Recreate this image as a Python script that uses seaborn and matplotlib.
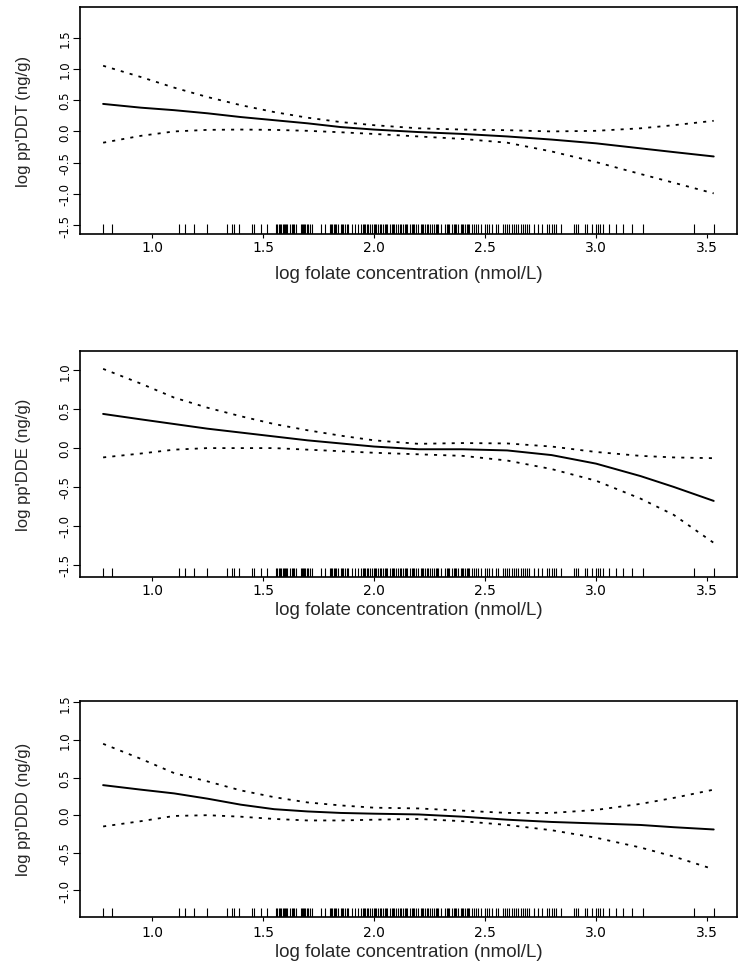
import numpy as np
import pandas as pd
import matplotlib
matplotlib.use("Agg")
import matplotlib.pyplot as plt
import seaborn as sns

x_grid = [0.78, 0.95, 1.10, 1.25, 1.40, 1.55, 1.70, 1.85, 2.00, 2.20, 2.40, 2.60, 2.80, 3.00, 3.20, 3.35, 3.53]

# pp'DDT
ddt_fit = [0.44, 0.38, 0.34, 0.29, 0.23, 0.18, 0.13, 0.07, 0.03, -0.01, -0.04, -0.08, -0.13, -0.19, -0.27, -0.33, -0.40]
ddt_upper = [1.05, 0.87, 0.70, 0.55, 0.42, 0.31, 0.22, 0.15, 0.10, 0.05, 0.03, 0.02, 0.00, 0.01, 0.05, 0.10, 0.17]
ddt_lower = [-0.18, -0.07, 0.00, 0.025, 0.03, 0.025, 0.01, -0.013, -0.04, -0.08, -0.12, -0.18, -0.32, -0.49, -0.68, -0.82, -0.99]

# pp'DDE
dde_fit = [0.44, 0.37, 0.31, 0.25, 0.20, 0.15, 0.10, 0.06, 0.02, -0.015, -0.015, -0.03, -0.09, -0.20, -0.36, -0.50, -0.68]
dde_upper = [1.02, 0.83, 0.65, 0.52, 0.41, 0.31, 0.23, 0.16, 0.10, 0.055, 0.065, 0.06, 0.02, -0.05, -0.10, -0.12, -0.13]
dde_lower = [-0.12, -0.07, -0.02, 0.00, 0.00, 0.00, -0.02, -0.04, -0.06, -0.08, -0.10, -0.16, -0.27, -0.42, -0.65, -0.86, -1.22]

# pp'DDD
ddd_fit = [0.40, 0.34, 0.29, 0.22, 0.14, 0.08, 0.05, 0.03, 0.02, 0.01, -0.02, -0.06, -0.09, -0.11, -0.13, -0.16, -0.19]
ddd_upper = [0.95, 0.75, 0.56, 0.45, 0.33, 0.24, 0.17, 0.13, 0.10, 0.09, 0.06, 0.03, 0.03, 0.07, 0.15, 0.23, 0.34]
ddd_lower = [-0.15, -0.08, -0.01, 0.00, -0.02, -0.05, -0.07, -0.07, -0.06, -0.05, -0.08, -0.13, -0.20, -0.30, -0.43, -0.55, -0.72]

# observed log folate values (rug)
rug_x = [0.78, 0.82, 1.12, 1.15, 1.19, 1.25, 1.34, 1.36, 1.37, 1.39, 1.45, 1.46, 1.49, 1.52,
         1.56, 1.565, 1.57, 1.575, 1.58, 1.59, 1.595, 1.60, 1.605, 1.61, 1.62, 1.63, 1.635, 1.64, 1.65,
         1.67, 1.675, 1.68, 1.685, 1.69, 1.70, 1.705, 1.71, 1.72,
         1.76, 1.78, 1.80, 1.805, 1.81, 1.82, 1.825, 1.83, 1.84, 1.85, 1.855, 1.86, 1.87, 1.88, 1.885,
         1.90, 1.915, 1.93, 1.94, 1.95, 1.955, 1.96, 1.97, 1.975, 1.98, 1.99, 2.00, 2.005, 2.01, 2.02,
         2.025, 2.03, 2.04, 2.05, 2.055, 2.06, 2.07, 2.08, 2.085, 2.09, 2.10, 2.11, 2.115, 2.12, 2.13,
         2.14, 2.145, 2.15, 2.16, 2.17, 2.175, 2.18, 2.19, 2.20, 2.21, 2.215, 2.22, 2.23, 2.24, 2.245,
         2.25, 2.26, 2.27, 2.28, 2.285, 2.29, 2.30, 2.32, 2.33, 2.335, 2.34, 2.35, 2.36, 2.365, 2.37,
         2.38, 2.39, 2.395, 2.40, 2.41, 2.42, 2.425, 2.43, 2.44, 2.45, 2.46, 2.47, 2.48, 2.50, 2.51,
         2.52, 2.53, 2.55, 2.56, 2.58, 2.59, 2.60, 2.61, 2.62, 2.63, 2.64, 2.65, 2.66, 2.67, 2.68, 2.69,
         2.70, 2.72, 2.74, 2.755, 2.78, 2.79, 2.80, 2.81, 2.82, 2.84, 2.90, 2.91, 2.92, 2.95, 2.96,
         2.98, 3.00, 3.01, 3.02, 3.03, 3.06, 3.09, 3.12, 3.16, 3.21, 3.44, 3.53]

x_ticks = [1.0, 1.5, 2.0, 2.5, 3.0, 3.5]
y_labels = ["log pp'DDT (ng/g)", "log pp'DDE (ng/g)", "log pp'DDD (ng/g)"]
x_label = "log folate concentration (nmol/L)"

sns.set_style("ticks")
plt.rcParams['font.family'] = ['Liberation Sans', 'DejaVu Sans']

fig = plt.figure(figsize=(7.5, 9.7), dpi=100)

# [left, bottom, width, height] in figure fraction, ylim, yticks, tick pad, label pad
panels = [
    dict(rect=[0.1067, 0.7577, 0.876, 0.2341], ylim=(-1.64, 1.99),
         yticks=[-1.5, -1.0, -0.5, 0.0, 0.5, 1.0, 1.5],
         fit=ddt_fit, up=ddt_upper, lo=ddt_lower, pad=1, lpad=8),
    dict(rect=[0.1067, 0.4041, 0.876, 0.2330], ylim=(-1.66, 1.25),
         yticks=[-1.5, -1.0, -0.5, 0.0, 0.5, 1.0],
         fit=dde_fit, up=dde_upper, lo=dde_lower, pad=1, lpad=3),
    dict(rect=[0.1067, 0.0540, 0.876, 0.2223], ylim=(-1.35, 1.52),
         yticks=[-1.0, -0.5, 0.0, 0.5, 1.0, 1.5],
         fit=ddd_fit, up=ddd_upper, lo=ddd_lower, pad=3, lpad=3),
]

for p, ylab in zip(panels, y_labels):
    ax = fig.add_axes(p['rect'])
    df = pd.DataFrame({'x': x_grid, 'fit': p['fit'], 'up': p['up'], 'lo': p['lo']})
    sns.lineplot(data=df, x='x', y='fit', ax=ax, color='black', linewidth=1.4)
    sns.lineplot(data=df, x='x', y='up', ax=ax, color='black', linewidth=1.3,
                 linestyle=(0, (1.7, 3.4)))
    sns.lineplot(data=df, x='x', y='lo', ax=ax, color='black', linewidth=1.3,
                 linestyle=(0, (1.7, 3.4)))
    sns.rugplot(x=rug_x, ax=ax, color='black', height=0.042, linewidth=0.8)

    ax.set_xlim(0.676, 3.635)
    ax.set_ylim(*p['ylim'])
    ax.set_xticks(x_ticks)
    ax.set_xticklabels([f"{t:.1f}" for t in x_ticks], fontsize=10,
                       family=['DejaVu Sans'])
    ax.set_yticks(p['yticks'])
    ax.set_yticklabels([f"{t:.1f}" for t in p['yticks']], fontsize=8.5,
                       rotation=90, va='center', family=['DejaVu Sans'])
    ax.tick_params(axis='x', length=3, width=0.8, pad=p['pad'], colors='black')
    ax.tick_params(axis='y', length=5, width=0.8, pad=1, colors='black')
    ax.set_xlabel(x_label, fontsize=13.5, labelpad=p['lpad'])
    ax.set_ylabel(ylab, fontsize=12, labelpad=20)
    for s in ax.spines.values():
        s.set_linewidth(1.2)
        s.set_color('black')

fig.savefig("out.png", dpi=100)
